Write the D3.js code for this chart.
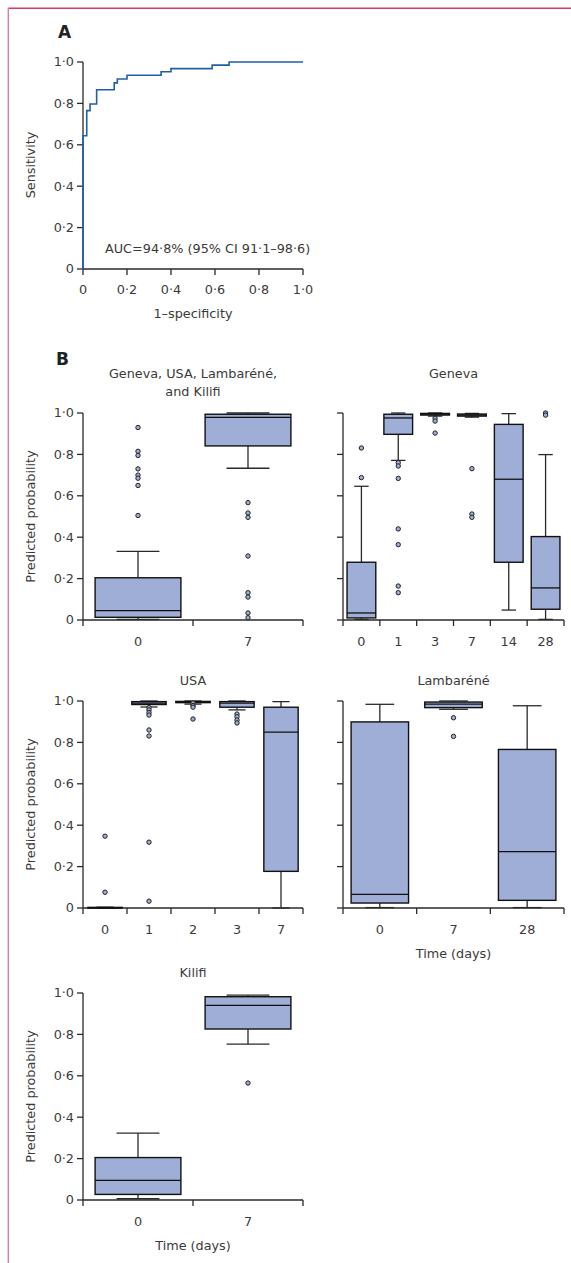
<!DOCTYPE html>
<html>
<head>
<meta charset="utf-8">
<script src="https://cdn.jsdelivr.net/npm/d3@7"></script>
<style>
  body { margin: 0; background: #fff; }
  svg { display: block; font-family: "DejaVu Sans", "Open Sans", sans-serif; }
  .lab { font-size: 12.8px; fill: #3a3a3a; }
</style>
</head>
<body>
<svg id="chart" width="571" height="1263"></svg>
<script>
// ROC curve (panel A)
var rocFpr = [0, 0, 0.017, 0.032, 0.062, 0.142, 0.156, 0.2, 0.355, 0.40, 0.587, 0.664, 1.0];
var rocTpr = [0, 0.644, 0.765, 0.797, 0.866, 0.899, 0.918, 0.936, 0.953, 0.968, 0.985, 1.0, 1.0];
var rocTicks = [0, 0.2, 0.4, 0.6, 0.8, 1.0];
var tickLabels = ["0", "0·2", "0·4", "0·6", "0·8", "1·0"];

// box stats: [low whisker, Q1, median, Q3, high whisker]
var allDays = ["0", "7"];
var allBoxes = [[0.003, 0.013, 0.045, 0.204, 0.332], [0.733, 0.841, 0.979, 0.994, 1.0]];
var allOutliers = [[0.93, 0.815, 0.795, 0.73, 0.70, 0.685, 0.65, 0.505],
                   [0.567, 0.517, 0.496, 0.309, 0.132, 0.111, 0.034, 0.011]];

var genevaDays = ["0", "1", "3", "7", "14", "28"];
var genevaBoxes = [[0.003, 0.010, 0.034, 0.279, 0.646],
                   [0.771, 0.897, 0.976, 0.994, 1.0],
                   [0.985, 0.990, 0.995, 0.998, 1.0],
                   [0.980, 0.985, 0.990, 0.995, 0.998],
                   [0.048, 0.279, 0.680, 0.945, 0.997],
                   [0.003, 0.052, 0.155, 0.403, 0.799]];
var genevaOutliers = [[0.831, 0.688],
                      [0.760, 0.744, 0.684, 0.440, 0.364, 0.164, 0.132],
                      [0.974, 0.961, 0.903],
                      [0.731, 0.512, 0.496],
                      [],
                      [1.0, 0.99]];

var usaDays = ["0", "1", "2", "3", "7"];
var usaBoxes = [[0, 0, 0.001, 0.003, 0.004],
                [0.971, 0.983, 0.99, 0.997, 1.0],
                [0.985, 0.992, 0.995, 0.998, 1.0],
                [0.957, 0.970, 0.99, 0.997, 1.0],
                [0.0, 0.177, 0.850, 0.970, 0.997]];
var usaOutliers = [[0.347, 0.076],
                   [0.968, 0.957, 0.944, 0.932, 0.860, 0.831, 0.318, 0.033],
                   [0.99, 0.978, 0.97, 0.913],
                   [0.937, 0.924, 0.908, 0.894],
                   []];

var lambDays = ["0", "7", "28"];
var lambBoxes = [[0.002, 0.024, 0.066, 0.899, 0.984],
                 [0.96, 0.968, 0.985, 0.995, 1.0],
                 [0.002, 0.037, 0.272, 0.766, 0.977]];
var lambOutliers = [[], [0.919, 0.829], []];

var kilifiDays = ["0", "7"];
var kilifiBoxes = [[0.006, 0.027, 0.095, 0.205, 0.323], [0.753, 0.826, 0.940, 0.982, 0.990]];
var kilifiOutliers = [[], [0.565]];

var boxFill = "#9eaed6";
var ink = "#2a2a2a";

var svg = d3.select("#chart");

// frame
svg.append("line").attr("x1", 8.3).attr("x2", 571).attr("y1", 8.3).attr("y2", 8.3)
  .attr("stroke", "#d43c64").attr("stroke-width", 1.4);
svg.append("line").attr("x1", 8.3).attr("x2", 8.3).attr("y1", 8.3).attr("y2", 1263)
  .attr("stroke", "#e07a98").attr("stroke-width", 1.4);

function yAxis(g, y, x0, withLabels){
  g.append("line").attr("x1", x0).attr("x2", x0).attr("y1", y(1)).attr("y2", y(0))
    .attr("stroke", ink).attr("stroke-width", 1.3);
  rocTicks.forEach(function(t, i){
    g.append("line").attr("x1", x0 - 6).attr("x2", x0).attr("y1", y(t)).attr("y2", y(t))
      .attr("stroke", ink).attr("stroke-width", 1.3);
    if(withLabels){
      g.append("text").attr("class", "lab").attr("x", x0 - 9).attr("y", y(t))
        .attr("dy", "0.35em").attr("text-anchor", "end").text(tickLabels[i]);
    }
  });
}

// ---- panel A ----
var ax = d3.scaleLinear().domain([0, 1]).range([83, 303]);
var ay = d3.scaleLinear().domain([0, 1]).range([269, 62]);
var gA = svg.append("g");
gA.append("text").attr("x", 58).attr("y", 38).attr("font-size", 17).attr("font-weight", "bold")
  .attr("fill", "#222").text("A");
yAxis(gA, ay, 83, true);
gA.append("line").attr("x1", ax(0)).attr("x2", ax(1)).attr("y1", ay(0)).attr("y2", ay(0))
  .attr("stroke", ink).attr("stroke-width", 1.3);
rocTicks.forEach(function(t, i){
  gA.append("line").attr("x1", ax(t)).attr("x2", ax(t)).attr("y1", ay(0)).attr("y2", ay(0) + 6)
    .attr("stroke", ink).attr("stroke-width", 1.3);
  gA.append("text").attr("class", "lab").attr("x", ax(t)).attr("y", ay(0) + 25)
    .attr("text-anchor", "middle").text(tickLabels[i]);
});
var rocPts = rocFpr.map(function(f, i){ return [f, rocTpr[i]]; });
gA.append("path").datum(rocPts)
  .attr("d", d3.line().x(function(d){ return ax(d[0]); }).y(function(d){ return ay(d[1]); }).curve(d3.curveStepAfter))
  .attr("fill", "none").attr("stroke", "#1f5fa8").attr("stroke-width", 1.6);
gA.append("text").attr("class", "lab").attr("x", 105).attr("y", 253).text("AUC=94·8% (95% CI 91·1–98·6)");
gA.append("text").attr("class", "lab").attr("transform", "translate(35,165) rotate(-90)")
  .attr("text-anchor", "middle").text("Sensitivity");
gA.append("text").attr("class", "lab").attr("x", 193).attr("y", 318)
  .attr("text-anchor", "middle").text("1–specificity");

svg.append("text").attr("x", 56).attr("y", 365).attr("font-size", 17).attr("font-weight", "bold")
  .attr("fill", "#222").text("B");

// ---- box panels ----
function boxPanel(o){
  var g = svg.append("g");
  var x = d3.scaleBand().domain(o.days).range([o.x0, o.x1]).paddingInner(0).paddingOuter(0);
  var y = d3.scaleLinear().domain([0, 1]).range([o.yb, o.yt]);
  yAxis(g, y, o.x0, o.yLabels);
  if(o.yLabels){
    g.append("text").attr("class", "lab")
      .attr("transform", "translate(35," + ((o.yt + o.yb) / 2) + ") rotate(-90)")
      .attr("text-anchor", "middle").text("Predicted probability");
  }
  g.append("line").attr("x1", o.x0).attr("x2", o.x1).attr("y1", o.yb).attr("y2", o.yb)
    .attr("stroke", ink).attr("stroke-width", 1.3);
  var edges = o.days.map(function(d){ return x(d); }).concat([o.x1]);
  edges.forEach(function(e){
    g.append("line").attr("x1", e).attr("x2", e).attr("y1", o.yb).attr("y2", o.yb + 6)
      .attr("stroke", ink).attr("stroke-width", 1.3);
  });
  o.days.forEach(function(d){
    g.append("text").attr("class", "lab").attr("x", x(d) + x.bandwidth() / 2).attr("y", o.yb + 26)
      .attr("text-anchor", "middle").text(d);
  });
  var bw = x.bandwidth() * 0.78;
  o.boxes.forEach(function(b, i){
    var cx = x(o.days[i]) + x.bandwidth() / 2;
    var bx = g.append("g");
    [[b[0], b[1]], [b[3], b[4]]].forEach(function(w){
      bx.append("line").attr("x1", cx).attr("x2", cx).attr("y1", y(w[0])).attr("y2", y(w[1]))
        .attr("stroke", ink).attr("stroke-width", 1.3);
    });
    [b[0], b[4]].forEach(function(v){
      bx.append("line").attr("x1", cx - bw / 4).attr("x2", cx + bw / 4).attr("y1", y(v)).attr("y2", y(v))
        .attr("stroke", ink).attr("stroke-width", 1.3);
    });
    bx.append("rect").attr("x", cx - bw / 2).attr("width", bw)
      .attr("y", y(b[3])).attr("height", Math.max(0.5, y(b[1]) - y(b[3])))
      .attr("fill", boxFill).attr("stroke", "#111").attr("stroke-width", 1.4);
    bx.append("line").attr("x1", cx - bw / 2).attr("x2", cx + bw / 2).attr("y1", y(b[2])).attr("y2", y(b[2]))
      .attr("stroke", "#111").attr("stroke-width", 1.3);
    o.outliers[i].forEach(function(v){
      bx.append("circle").attr("cx", cx).attr("cy", y(v)).attr("r", 2.2)
        .attr("fill", boxFill).attr("stroke", "#222").attr("stroke-width", 1);
    });
  });
  o.title.forEach(function(t, k){
    g.append("text").attr("class", "lab").attr("x", (o.x0 + o.x1) / 2).attr("y", o.titleY + k * 18.5)
      .attr("text-anchor", "middle").text(t);
  });
  if(o.xTitle){
    g.append("text").attr("class", "lab").attr("x", (o.x0 + o.x1) / 2).attr("y", o.yb + 50)
      .attr("text-anchor", "middle").text("Time (days)");
  }
}

boxPanel({days: allDays, boxes: allBoxes, outliers: allOutliers, x0: 83, x1: 303, yt: 413, yb: 620,
  yLabels: true, title: ["Geneva, USA, Lambaréné,", "and Kilifi"], titleY: 377.5, xTitle: false});
boxPanel({days: genevaDays, boxes: genevaBoxes, outliers: genevaOutliers, x0: 343, x1: 564, yt: 413, yb: 620,
  yLabels: false, title: ["Geneva"], titleY: 377.5, xTitle: false});
boxPanel({days: usaDays, boxes: usaBoxes, outliers: usaOutliers, x0: 83, x1: 303, yt: 701, yb: 908,
  yLabels: true, title: ["USA"], titleY: 685, xTitle: false});
boxPanel({days: lambDays, boxes: lambBoxes, outliers: lambOutliers, x0: 343, x1: 564, yt: 701, yb: 908,
  yLabels: false, title: ["Lambaréné"], titleY: 685, xTitle: true});
boxPanel({days: kilifiDays, boxes: kilifiBoxes, outliers: kilifiOutliers, x0: 83, x1: 303, yt: 993, yb: 1200,
  yLabels: true, title: ["Kilifi"], titleY: 977, xTitle: true});
</script>
</body>
</html>
